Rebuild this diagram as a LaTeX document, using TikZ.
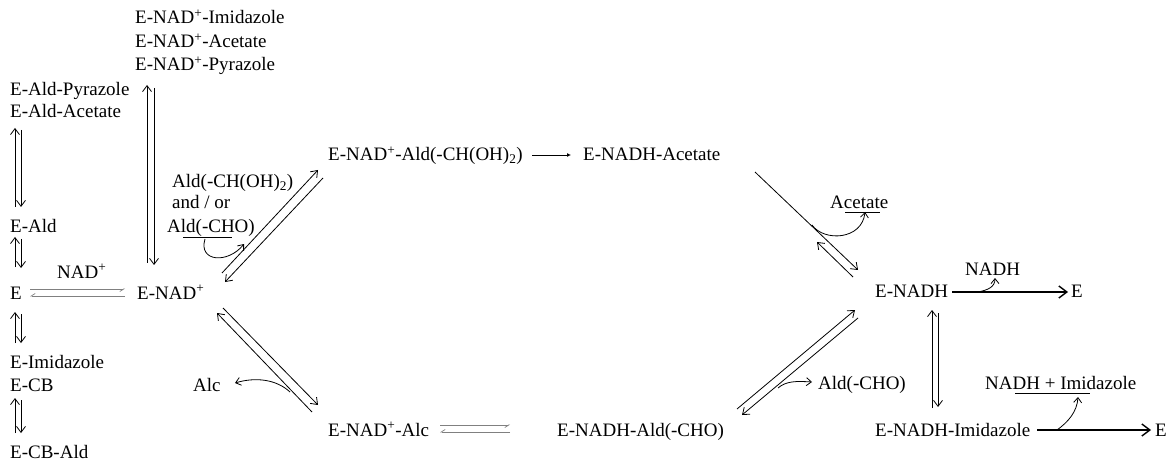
\documentclass[tikz,border=0pt]{standalone}
\usepackage{fontspec}
\setmainfont{Liberation Serif}
\usetikzlibrary{arrows.meta}
\tikzset{
  lbl/.style={anchor=base west, inner sep=0pt},
  fwd/.style={line width=0.8pt, -{Straight Barb[length=6pt,width=9pt]}},
  grayeq/.style={gray, line width=0.7pt, -{Straight Barb[right,length=4pt,width=5pt]}},
  bigfwd/.style={line width=1.4pt, -{Straight Barb[length=8pt,width=12pt]}},
  curvearr/.style={line width=0.8pt, -{Straight Barb[length=5pt,width=8pt]}},
}
\begin{document}
\begin{tikzpicture}[x=1pt,y=-1pt,font=\fontsize{19}{22}\selectfont]
\useasboundingbox (0,0) rectangle (1169,462);
% left column
\node[lbl] (ealdpyr) at (10,96) {E-Ald-Pyrazole};
\node[lbl] (ealdacet) at (10,118) {E-Ald-Acetate};
\node[lbl] (eald) at (10,233) {E-Ald};
\node[lbl] (nadp) at (57,278) {NAD\textsuperscript{+}};
\node[lbl] (e) at (10,299) {E};
\node[lbl] (eimid) at (10,368) {E-Imidazole};
\node[lbl] (ecb) at (10,391) {E-CB};
\node[lbl] (ecbald) at (10,458) {E-CB-Ald};
% enzyme-NAD+ complexes
\node[lbl] (enadimid) at (135,24) {E-NAD\textsuperscript{+}-Imidazole};
\node[lbl] (enadacet) at (135,48) {E-NAD\textsuperscript{+}-Acetate};
\node[lbl] (enadpyr) at (135,71) {E-NAD\textsuperscript{+}-Pyrazole};
\node[lbl] (enad) at (137,299) {E-NAD\textsuperscript{+}};
\node[lbl] (aldhyd) at (172,188) {Ald(-CH(OH)\textsubscript{2})};
\node[lbl] (andor) at (172,209) {and / or};
\node[lbl] (aldcho) at (167,233) {Ald(-CHO)};
\node[lbl] (alc) at (193,391) {Alc};
% top and bottom rows
\node[lbl] (enadald) at (328,161) {E-NAD\textsuperscript{+}-Ald(-CH(OH)\textsubscript{2})};
\node[lbl] (enadhacet) at (583,161) {E-NADH-Acetate};
\node[lbl] (enadalc) at (328,436) {E-NAD\textsuperscript{+}-Alc};
\node[lbl] (enadhald) at (557,436) {E-NADH-Ald(-CHO)};
\node[lbl] (acetate) at (830,209) {Acetate};
\node[lbl] (aldcho2) at (818,389) {Ald(-CHO)};
% right side
\node[lbl] (enadh) at (875,298) {E-NADH};
\node[lbl] (nadh) at (965,276) {NADH};
\node[lbl] (eone) at (1071,298) {E};
\node[lbl] (enadhimid) at (875,436) {E-NADH-Imidazole};
\node[lbl] (nadhimid) at (985,389) {NADH + Imidazole};
\node[lbl] (etwo) at (1155,436) {E};

% left column equilibria
\coordinate (a1) at (15,207); \coordinate (a2) at (15,128);
\coordinate (a3) at (21,130); \coordinate (a4) at (21,207);
\coordinate (b1) at (15,267); \coordinate (b2) at (15,237);
\coordinate (b3) at (21,239); \coordinate (b4) at (21,268);
\coordinate (c1) at (15,343); \coordinate (c2) at (15,312);
\coordinate (c3) at (21,314); \coordinate (c4) at (21,343);
\coordinate (d1) at (15,433); \coordinate (d2) at (15,398);
\coordinate (d3) at (21,400); \coordinate (d4) at (21,433);
\draw[fwd] (a1) -- (a2); \draw[fwd] (a3) -- (a4);
\draw[fwd] (b1) -- (b2); \draw[fwd] (b3) -- (b4);
\draw[fwd] (c1) -- (c2); \draw[fwd] (c3) -- (c4);
\draw[fwd] (d1) -- (d2); \draw[fwd] (d3) -- (d4);
% E-NAD+ with the dead-end complexes
\coordinate (f1) at (147,263); \coordinate (f2) at (147,85);
\coordinate (f3) at (154,88); \coordinate (f4) at (154,265);
\draw[fwd] (f1) -- (f2); \draw[fwd] (f3) -- (f4);
% E + NAD+
\coordinate (g1) at (30,289); \coordinate (g2) at (125,289);
\coordinate (g3) at (125,296); \coordinate (g4) at (30,296);
\draw[grayeq] (g1) -- (g2); \draw[grayeq] (g3) -- (g4);
% aldehyde binding
\coordinate (h1) at (222,273); \coordinate (h2) at (318,170);
\coordinate (h3) at (323,178); \coordinate (h4) at (225,282);
\draw[fwd] (h1) -- (h2); \draw[fwd] (h3) -- (h4);
\coordinate (u1) at (183,237); \coordinate (u2) at (232,237);
\draw[line width=0.8pt] (u1) -- (u2);
\draw[curvearr] (205,239) .. controls (198,262) and (228,264) .. (244,244);
% hydride transfer
\coordinate (i1) at (532,155); \coordinate (i2) at (571,155);
\draw[line width=0.8pt, -{Latex[length=4pt,width=4pt]}] (i1) -- (i2);
% acetate release
\coordinate (j1) at (755,172); \coordinate (j2) at (858,270);
\coordinate (j3) at (853,277); \coordinate (j4) at (817,242);
\draw[fwd] (j1) -- (j2); \draw[fwd] (j3) -- (j4);
\coordinate (u3) at (845,212); \coordinate (u4) at (880,212);
\draw[line width=0.8pt] (u3) -- (u4);
\draw[curvearr] (812,225) .. controls (824,242) and (862,240) .. (865,212);
% NADH release
\coordinate (k1) at (952,292); \coordinate (k2) at (1068,292);
\draw[bigfwd] (k1) -- (k2);
\draw[curvearr] (978,292) .. controls (988,290) and (995,287) .. (995,278);
\coordinate (m1) at (932,408); \coordinate (m2) at (932,310);
\coordinate (m3) at (938,313); \coordinate (m4) at (938,407);
\draw[fwd] (m1) -- (m2); \draw[fwd] (m3) -- (m4);
\coordinate (n1) at (1037,430); \coordinate (n2) at (1151,430);
\draw[bigfwd] (n1) -- (n2);
\coordinate (u5) at (1015,393); \coordinate (u6) at (1090,393);
\draw[line width=0.8pt] (u5) -- (u6);
\draw[curvearr] (1057,430) .. controls (1068,422) and (1077,412) .. (1078,397);
% alcohol pathway
\coordinate (o1) at (312,412); \coordinate (o2) at (217,313);
\coordinate (o3) at (223,308); \coordinate (o4) at (318,405);
\draw[fwd] (o1) -- (o2); \draw[fwd] (o3) -- (o4);
\draw[curvearr] (290,392) .. controls (276,379) and (255,377) .. (235,383);
\coordinate (q1) at (440,425); \coordinate (q2) at (510,425);
\coordinate (q3) at (510,432); \coordinate (q4) at (440,432);
\draw[grayeq] (q1) -- (q2); \draw[grayeq] (q3) -- (q4);
\coordinate (r1) at (737,409); \coordinate (r2) at (855,310);
\coordinate (r3) at (858,318); \coordinate (r4) at (742,415);
\draw[fwd] (r1) -- (r2); \draw[fwd] (r3) -- (r4);
\draw[curvearr] (778,388) .. controls (786,381) and (796,381) .. (812,382);
\end{tikzpicture}
\end{document}
